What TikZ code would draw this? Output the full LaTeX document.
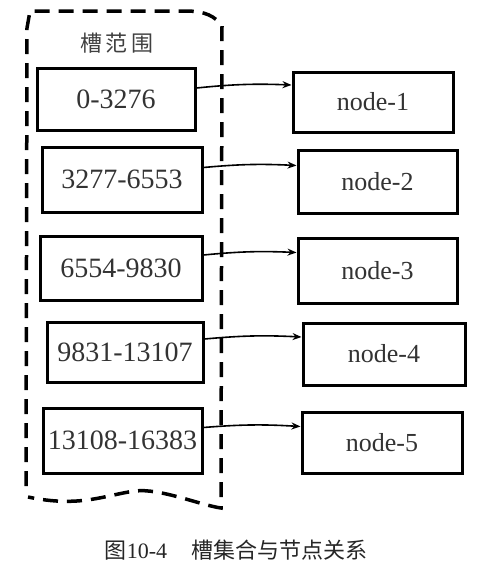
\documentclass[tikz,border=0pt]{standalone}
\usepackage{fontspec}
\setmainfont{Liberation Serif}
\newfontfamily\cjk{Noto Sans CJK SC}
\usetikzlibrary{arrows.meta}

\begin{document}
\begin{tikzpicture}[x=1pt,y=-1pt,
    rangebox/.style={draw,line width=3pt,inner sep=0pt,text=black!80,font=\fontsize{28}{30}\selectfont},
    nodebox/.style={draw,line width=3pt,inner sep=0pt,text=black!80,font=\fontsize{26}{30}\selectfont},
    link/.style={line width=1.6pt,-{Stealth[length=9pt,width=7pt]}}]
        \useasboundingbox (0,0) rectangle (480,568);

        % slot range area
        \draw[line width=3.5pt,dash pattern=on 15pt off 9pt]
            (26,486) -- (27,28) -- (30,11) -- (185,11)
            .. controls (205,11) and (215,16) .. (222,26) -- (221,508)
            .. controls (200,505) and (160,488) .. (135,491)
            .. controls (105,495) and (80,508) .. (28,497);
        \node[text=black!75,font=\cjk\fontsize{22}{22}\selectfont] (title) at (117,43) {槽\hspace{4pt}范\hspace{4pt}围};

        \node[rangebox,minimum width=158pt,minimum height=62pt] (r1) at (116,99) {0-3276};
        \node[rangebox,minimum width=160pt,minimum height=65pt] (r2) at (122,179.5) {3277-6553};
        \node[rangebox,minimum width=162pt,minimum height=64pt] (r3) at (121,268) {6554-9830};
        \node[rangebox,minimum width=156pt,minimum height=60pt] (r4) at (125,352) {9831-13107};
        \node[rangebox,minimum width=159pt,minimum height=65pt] (r5) at (122.5,440.5) {13108-16383};

        \node[nodebox,minimum width=160pt,minimum height=60pt] (n1) at (373,102) {node-1};
        \node[nodebox,minimum width=159pt,minimum height=63pt] (n2) at (377.5,181.5) {node-2};
        \node[nodebox,minimum width=159pt,minimum height=65pt] (n3) at (377.5,270.5) {node-3};
        \node[nodebox,minimum width=162pt,minimum height=62pt] (n4) at (384,354) {node-4};
        \node[nodebox,minimum width=160pt,minimum height=61pt] (n5) at (382,442.5) {node-5};

        \draw[link] ([yshift=11pt]r1.east) to[bend left=4] ([yshift=17pt]n1.west);
        \draw[link] ([yshift=12pt]r2.east) to[bend left=4] ([yshift=16pt]n2.west);
        \draw[link] ([yshift=13pt]r3.east) to[bend left=4] ([yshift=18pt]n3.west);
        \draw[link] ([yshift=13pt]r4.east) to[bend left=4] ([yshift=17pt]n4.west);
        \draw[link] ([yshift=13pt]r5.east) to[bend left=4] ([yshift=16pt]n5.west);

        \node[text=black!85,font=\fontsize{22}{24}\selectfont] (caption) at (236,550) {{\cjk 图}10-4\hspace{24pt}{\cjk 槽集合与节点关系}};
    \end{tikzpicture}
\end{document}
